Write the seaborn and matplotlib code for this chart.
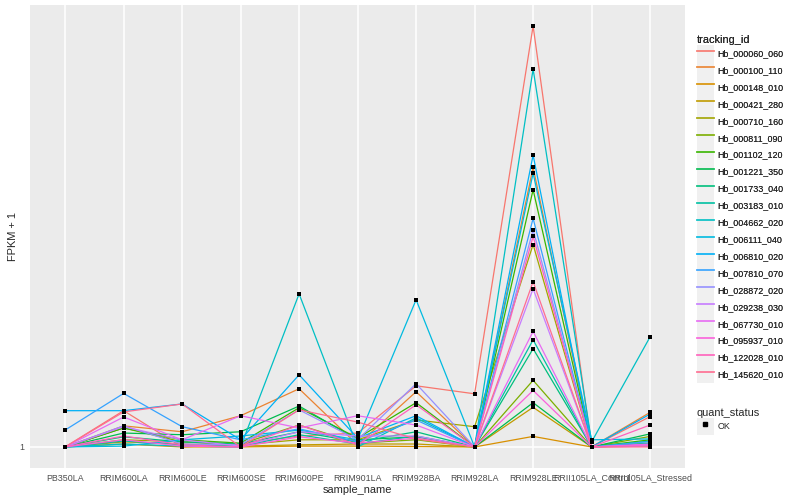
import matplotlib
matplotlib.use('Agg')
import matplotlib.pyplot as plt
from matplotlib.legend_handler import HandlerLine2D
from matplotlib.lines import Line2D
from matplotlib.patches import Rectangle
import numpy as np
import pandas as pd
import seaborn as sns

samples = ['PB350LA', 'RRIM600LA', 'RRIM600LE', 'RRIM600SE', 'RRIM600PE',
           'RRIM901LA', 'RRIM928BA', 'RRIM928LA', 'RRIM928LE',
           'RRII105LA_Control', 'RRII105LA_Stressed']

genes = ['Hb_000060_060', 'Hb_000100_110', 'Hb_000148_010', 'Hb_000421_280',
         'Hb_000710_160', 'Hb_000811_090', 'Hb_001102_120', 'Hb_001221_350',
         'Hb_001733_040', 'Hb_003183_010', 'Hb_004662_020', 'Hb_006111_040',
         'Hb_006810_020', 'Hb_007810_070', 'Hb_028872_020', 'Hb_029238_030',
         'Hb_067730_010', 'Hb_095937_010', 'Hb_122028_010', 'Hb_145620_010']

# FPKM + 1, one row per gene, columns follow `samples`
fpkm = [
    [1, 9.6, 1, 1.7, 3.6, 4.3, 15.5, 13.6, 100.8, 1, 8.2],
    [1, 6.0, 4.6, 8.4, 14.8, 1.5, 14.1, 1, 67.3, 1, 9.2],
    [1, 1.7, 1, 1, 1.2, 1.2, 1.1, 1, 3.5, 1, 1.2],
    [1, 2.2, 1.7, 1.2, 1.5, 1.7, 1.7, 1, 10.4, 1, 1.5],
    [1, 2.7, 2.2, 1.5, 2.7, 2.7, 7.4, 5.8, 49.0, 1, 1.9],
    [1, 5.5, 2.2, 1.7, 6.2, 1.9, 2.7, 1, 16.8, 1, 3.5],
    [1, 5.5, 2.7, 1.9, 10.3, 3.1, 11.5, 1, 62.0, 1, 2.7],
    [1, 4.3, 3.9, 4.6, 10.7, 2.7, 3.4, 1, 11.5, 1, 4.1],
    [1, 3.4, 2.2, 1.7, 4.6, 2.2, 4.6, 1, 24.3, 1, 2.4],
    [1, 2.4, 1.5, 1.2, 3.9, 1.7, 3.6, 1, 26.4, 1, 1.9],
    [1, 1.7, 1.2, 1, 37.3, 1, 7.9, 1, 90.6, 2.2, 27.1],
    [1, 1.2, 2.7, 3.6, 5.0, 2.7, 35.9, 1, 65.9, 2.7, 2.9],
    [9.6, 9.6, 11.2, 2.7, 18.1, 3.1, 8.4, 1, 70.2, 1, 8.8],
    [5.0, 13.7, 5.8, 2.7, 5.3, 2.2, 7.4, 1, 55.2, 1, 2.3],
    [1, 6.0, 1.7, 1.5, 9.8, 2.7, 16.0, 1, 52.5, 1, 1.5],
    [1, 5.8, 2.7, 1.2, 4.6, 3.6, 3.6, 1, 38.5, 1, 1.2],
    [1, 8.1, 2.7, 8.4, 5.5, 8.4, 6.2, 1, 28.4, 1, 1.7],
    [1, 2.7, 1.2, 1, 3.4, 1.9, 3.1, 1, 14.4, 1, 1.5],
    [1, 3.6, 1.5, 1, 6.2, 1.5, 11.0, 1, 50.9, 1, 6.2],
    [1, 9.3, 11.2, 1, 9.8, 6.9, 2.9, 1, 40.2, 1, 1],
]

# ggplot hue_pal() for 20 levels
colors = ['#F8766D', '#EA8331', '#D89000', '#C09B00', '#A3A500', '#7CAE00',
          '#39B600', '#00BB4E', '#00BF7D', '#00C1A3', '#00BFC4', '#00BAE0',
          '#00B0F6', '#35A2FF', '#9590FF', '#C77CFF', '#E76BF3', '#FA62DB',
          '#FF62BC', '#FF6C91']

rows = []
for g, vals in zip(genes, fpkm):
    for i, v in enumerate(vals):
        rows.append({'tracking_id': g, 'sample_idx': i,
                     'sample_name': samples[i], 'fpkm': v,
                     'quant_status': 'OK'})
df = pd.DataFrame(rows)

sns.set_style('darkgrid', {'axes.facecolor': '#EBEBEB', 'grid.color': 'white'})
plt.rcParams['font.family'] = ['Liberation Sans', 'DejaVu Sans']


class KeyHandler(HandlerLine2D):
    """line legend key drawn over a light grey square, like ggplot"""

    def create_artists(self, legend, orig_handle, xdescent, ydescent,
                       width, height, fontsize, trans):
        artists = super().create_artists(legend, orig_handle, xdescent,
                                         ydescent, width, height, fontsize,
                                         trans)
        bg = Rectangle((-xdescent, -ydescent), width, height,
                       facecolor='#F0F0F0', edgecolor='none', transform=trans,
                       zorder=0)
        return [bg] + list(artists)


fig = plt.figure(figsize=(8, 5), dpi=100)
ax = fig.add_axes([0.0375, 0.064, 0.819, 0.926])

sns.lineplot(data=df, x='sample_idx', y='fpkm', hue='tracking_id',
             hue_order=genes, palette=colors, linewidth=0.9,
             legend=False, sort=False, estimator=None, ax=ax)
sns.scatterplot(data=df, x='sample_idx', y='fpkm', color='black',
                marker='s', s=7, linewidth=0, legend=False, ax=ax, zorder=3)

ymin, ymax = df['fpkm'].min(), df['fpkm'].max()
pad = (ymax - ymin) * 0.05
ax.set_ylim(ymin - pad, ymax + pad)
ax.set_xlim(-0.6, len(samples) - 0.4)

ax.set_xticks(range(len(samples)))
ax.set_xticklabels(samples)
ax.set_yticks([1])
ax.set_yticklabels(['1'])
ax.grid(True, color='white', linewidth=1.1)
for s in ax.spines.values():
    s.set_visible(False)
ax.tick_params(axis='both', length=2, width=0.8, color='#333333',
               labelsize=6.4, labelcolor='#4D4D4D', pad=2)
ax.set_xlabel('sample_name', fontsize=7.9, labelpad=2)
ax.set_ylabel('FPKM + 1', fontsize=7.9, labelpad=1)

leg_kw = dict(loc='upper left', frameon=False, fontsize=6.4,
              title_fontsize=7.9, handlelength=1.9, handleheight=2.55,
              labelspacing=0.0, handletextpad=0.45, borderaxespad=0,
              borderpad=0, alignment='left',
              handler_map={Line2D: KeyHandler()})

handles = [Line2D([], [], color=c, linewidth=1.2) for c in colors]
leg1 = fig.legend(handles, genes, title='tracking_id',
                  bbox_to_anchor=(0.871, 0.930), **leg_kw)

ok_handle = Line2D([], [], linestyle='none', marker='s', color='black',
                   markersize=2.6)
leg2 = fig.legend([ok_handle], ['OK'], title='quant_status',
                  bbox_to_anchor=(0.871, 0.184), numpoints=1, **leg_kw)
fig.add_artist(leg1)

fig.savefig('out.png', dpi=100)
